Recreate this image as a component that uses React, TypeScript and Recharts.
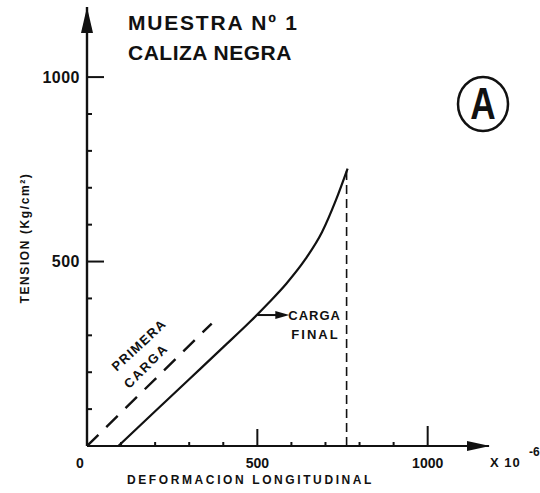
import { LineChart, Line, XAxis, YAxis, ReferenceDot } from 'recharts'

// curva de carga final (deformacion x10^-6, tension kg/cm2)
const strainFinal = [92, 200, 300, 400, 480, 530, 585, 640, 690, 730, 765]
const stressFinal = [0, 94, 181, 268, 338, 385, 440, 505, 580, 665, 752]

// primera carga (recta discontinua)
const strainFirst = [0, 366]
const stressFirst = [0, 332]

// linea vertical de descarga
const strainDrop = [762, 762]
const stressDrop = [0, 750]

const xTicks = [0, 100, 200, 300, 400, 500, 600, 700, 800, 900, 1000]
const yTicks = [100, 200, 300, 400, 500, 600, 700, 800, 900, 1000]
const xLabeled = [0, 500, 1000]
const yLabeled = [500, 1000]

const X_MAX = 1180
const Y_MAX = 1190

const INK = '#111'
const FONT = '"Liberation Sans", Arial, sans-serif'

const toRows = (xs: number[], ys: number[]) => xs.map((x, i) => ({ x, y: ys[i] }))

const finalRows = toRows(strainFinal, stressFinal)
const firstRows = toRows(strainFirst, stressFirst)
const dropRows = toRows(strainDrop, stressDrop)

function XTick({ x, y, payload }: any) {
  const v = payload.value as number
  const len = v === 0 ? 0 : v === 1000 ? 20 : v === 500 ? 17 : 4
  return (
    <g>
      {len > 0 && <line x1={x} x2={x} y1={y} y2={y - len} stroke={INK} strokeWidth={2} />}
      {xLabeled.includes(v) && (
        <text x={v === 0 ? x - 7 : x} y={y + 17} textAnchor="middle" dominantBaseline="central"
          fontFamily={FONT} fontWeight={700} fontSize={14} fill={INK}>
          {v}
        </text>
      )}
    </g>
  )
}

function YTick({ x, y, payload }: any) {
  const v = payload.value as number
  const major = yLabeled.includes(v)
  return (
    <g>
      <line x1={x} x2={x + (major ? 17 : 5)} y1={y} y2={y} stroke={INK} strokeWidth={2} />
      {major && (
        <text x={x - 7} y={y} textAnchor="end" dominantBaseline="central"
          fontFamily={FONT} fontWeight={700} fontSize={16} letterSpacing={0.5} fill={INK}>
          {v}
        </text>
      )}
    </g>
  )
}

const xArrow = ({ cx, cy }: any) => (
  <polygon points={`${cx + 1},${cy} ${cx - 22},${cy - 5} ${cx - 22},${cy + 5}`} fill={INK} />
)

const yArrow = ({ cx, cy }: any) => (
  <polygon points={`${cx},${cy} ${cx - 6},${cy + 26} ${cx + 6},${cy + 26}`} fill={INK} />
)

const finalLabel = ({ cx, cy }: any) => (
  <g>
    <line x1={cx} y1={cy} x2={cx + 22} y2={cy} stroke={INK} strokeWidth={2} />
    <polygon points={`${cx + 32},${cy} ${cx + 18},${cy - 4} ${cx + 18},${cy + 4}`} fill={INK} />
    <text x={cx + 31} y={cy + 5} fontFamily={FONT} fontWeight={700} fontSize={13} letterSpacing={1} fill={INK}>
      CARGA
    </text>
    <text x={cx + 34} y={cy + 24} fontFamily={FONT} fontWeight={700} fontSize={13} letterSpacing={2} fill={INK}>
      FINAL
    </text>
  </g>
)

export default function App() {
  return (
    <div style={{ position: 'absolute', left: 0, top: 0, width: 540, height: 493, background: '#fff' }}>
      <LineChart width={540} height={493} margin={{ top: 7, right: 51, left: 0, bottom: 0 }}>
        <XAxis
          type="number"
          dataKey="x"
          domain={[0, X_MAX]}
          ticks={xTicks}
          interval={0}
          height={47}
          tickSize={0}
          tickMargin={0}
          tick={<XTick />}
          axisLine={{ stroke: INK, strokeWidth: 2 }}
          allowDataOverflow
        />
        <YAxis
          type="number"
          dataKey="y"
          domain={[0, Y_MAX]}
          ticks={yTicks}
          interval={0}
          width={87}
          tickSize={0}
          tickMargin={0}
          tick={<YTick />}
          axisLine={{ stroke: INK, strokeWidth: 2.4 }}
          allowDataOverflow
        />
        <Line data={firstRows} dataKey="y" type="linear" stroke={INK} strokeWidth={2.4}
          strokeDasharray="16 11" dot={false} isAnimationActive={false} />
        <Line data={dropRows} dataKey="y" type="linear" stroke={INK} strokeWidth={1.6}
          strokeDasharray="9 5" dot={false} isAnimationActive={false} />
        <Line data={finalRows} dataKey="y" type="monotone" stroke={INK} strokeWidth={2.2}
          dot={false} isAnimationActive={false} />
        <ReferenceDot x={X_MAX} y={0} r={0} shape={xArrow} ifOverflow="visible" />
        <ReferenceDot x={0} y={Y_MAX} r={0} shape={yArrow} ifOverflow="visible" />
        <ReferenceDot x={500} y={355} r={0} shape={finalLabel} ifOverflow="visible" />
      </LineChart>

      <svg width={540} height={493} style={{ position: 'absolute', left: 0, top: 0, pointerEvents: 'none' }}>
        <g fontFamily={FONT} fontWeight={700} fill={INK}>
          <text x={128} y={30} fontSize={21} letterSpacing={1.8}>MUESTRA Nº 1</text>
          <text x={128} y={60} fontSize={21} letterSpacing={0.5}>CALIZA NEGRA</text>

          <ellipse cx={483} cy={104} rx={25} ry={27} fill="none" stroke={INK} strokeWidth={2.5} />
          <text x={483} y={104} textAnchor="middle" dominantBaseline="central" fontSize={44} fontWeight={900}
            transform="translate(483 0) scale(0.8 1) translate(-483 0)">
            A
          </text>

          <text x={25} y={238} fontSize={12} letterSpacing={1.6} textAnchor="middle" dominantBaseline="central"
            transform="rotate(-90 25 238)">
            TENSION (Kg/cm²)
          </text>

          <text x={127} y={484} fontSize={12} letterSpacing={2.6}>DEFORMACION LONGITUDINAL</text>

          <text x={490} y={467} fontSize={13} letterSpacing={1}>X 10</text>
          <text x={529} y={456} fontSize={12}>-6</text>

          <text x={139} y={345} fontSize={13} letterSpacing={1.3} textAnchor="middle" dominantBaseline="central"
            transform="rotate(-43 139 345)">
            PRIMERA
          </text>
          <text x={146} y={366} fontSize={13} letterSpacing={1.8} textAnchor="middle" dominantBaseline="central"
            transform="rotate(-45 146 366)">
            CARGA
          </text>
        </g>
      </svg>
    </div>
  )
}
